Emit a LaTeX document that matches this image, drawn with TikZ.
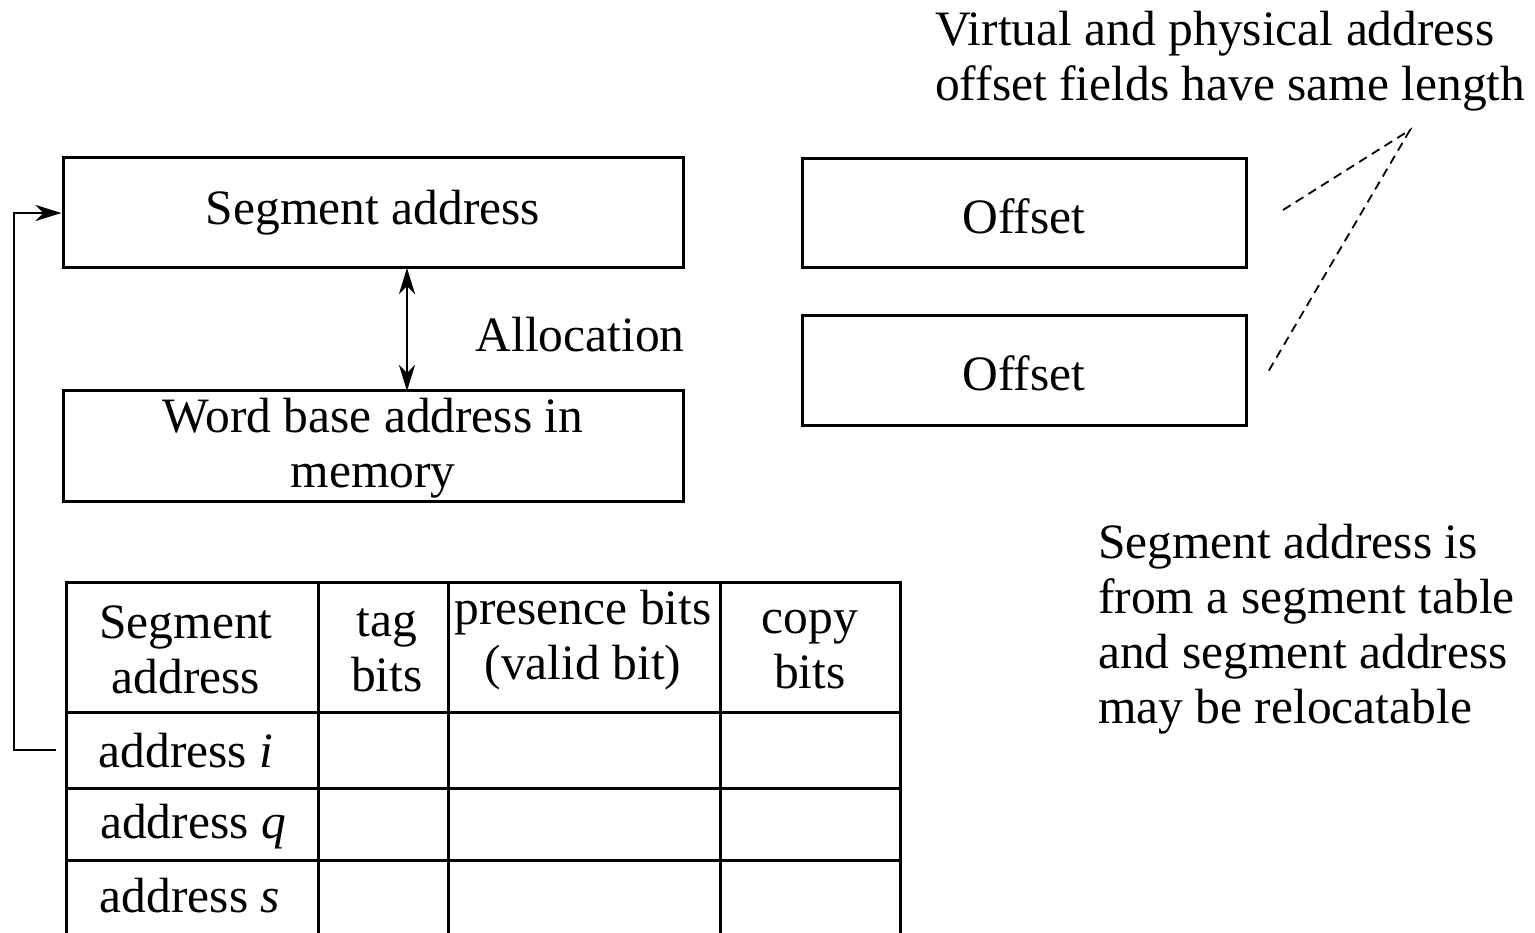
\documentclass[tikz,border=0pt]{standalone}
\usepackage{fontspec}
\setmainfont{Liberation Serif}
\usetikzlibrary{arrows.meta}
\begin{document}
\begin{tikzpicture}[x=1pt,y=-1pt,
  box/.style={draw,line width=3pt,minimum width=620pt,minimum height=110pt,inner sep=0pt},
  obox/.style={draw,line width=3pt,minimum width=444pt,minimum height=109pt,inner sep=0pt},
  txt/.style={inner sep=0pt,align=center,font=\fontsize{49.5}{55}\selectfont},
  ltxt/.style={inner sep=0pt,align=left,font=\fontsize{49.5}{55}\selectfont},
  gridline/.style={line width=3pt},
  conn/.style={line width=2.6pt},
  dashline/.style={line width=1.8pt,dash pattern=on 9pt off 6pt},
  tip/.style={Stealth[length=26pt,width=16pt,inset=8pt]}
]
\useasboundingbox (0,0) rectangle (1535,933);
% upper boxes
\node[box] (seg) at (373,213) {};
\node[txt] (segt) at (373,213) {Segment address};
\node[box] (word) at (373,446) {};
\node[txt] (wordt) at (373,448) {Word base address in\\memory};
\node[txt] (alloc) at (580,335) {Allocation};
\draw[conn,{Stealth[length=26pt,width=16pt,inset=8pt]}-{Stealth[length=26pt,width=16pt,inset=8pt]}] (407,268) coordinate (a1) -- (407,391) coordinate (a2);
% offsets
\node[obox] (off1) at (1024,213) {};
\node[txt] (off1t) at (1024,216) {Offset};
\node[obox] (off2) at (1024,370.5) {};
\node[txt] (off2t) at (1024,373) {Offset};
% note top
\node[ltxt,anchor=west] (note1) at (935,61) {Virtual and physical address\\offset fields have same length};
\coordinate (apex) at (1410,130);
\coordinate (d1) at (1283,210);
\coordinate (d2) at (1268,372);
\draw[dashline] (d1) -- (apex) -- (d2);
% note right
\node[ltxt,anchor=west] (note2) at (1098,629) {Segment address is\\from a segment table\\and segment address\\may be relocatable};
% table
\draw[gridline] (66,945) -- (66,582) -- (900,582) -- (900,945);
\draw[gridline] (318,582) -- (318,945);
\draw[gridline] (448,582) -- (448,945);
\draw[gridline] (720,582) -- (720,945);
\draw[gridline] (66,712) -- (900,712);
\draw[gridline] (66,788) -- (900,788);
\draw[gridline] (66,860) -- (900,860);
\node[txt] (h1) at (186,650) {Segment\\address};
\node[txt] (h2) at (387,650) {tag\\bits};
\node[txt] (h3) at (583,640) {presence bits\\(valid bit)};
\node[txt] (h4) at (810,650) {copy\\bits};
\node[txt] (ri) at (186,751) {address \textit{i}};
\node[txt] (rq) at (193,827) {address \textit{q}};
\node[txt] (rs) at (190,896) {address \textit{s}};
% feedback
\coordinate (fb) at (56,750);
\draw[conn,-{Stealth[length=26pt,width=16pt,inset=8pt]}] (fb) -- (14,750) |- (seg.west);
\end{tikzpicture}
\end{document}
